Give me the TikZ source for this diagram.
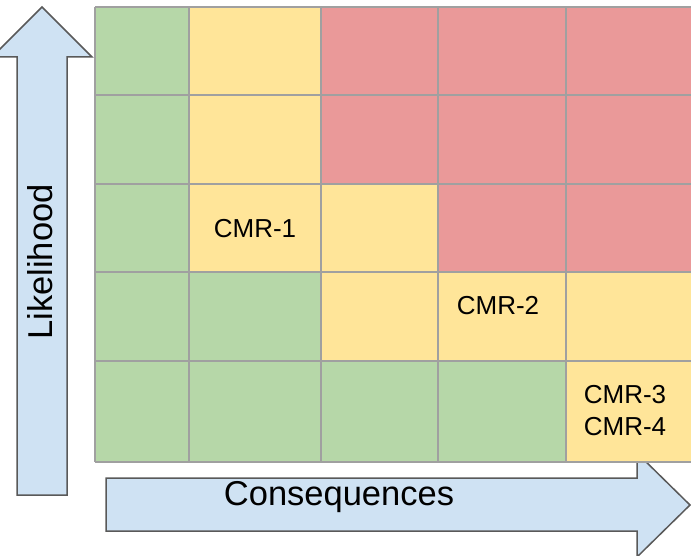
\documentclass[tikz,border=0pt]{standalone}
\usepackage{fontspec}
\setmainfont{Liberation Sans}
\definecolor{cgreen}{HTML}{B6D7A8}
\definecolor{cyellow}{HTML}{FFE599}
\definecolor{cred}{HTML}{EA9999}
\definecolor{cblue}{HTML}{CFE2F3}
\definecolor{cgrid}{HTML}{A0A0A0}
\definecolor{carrow}{HTML}{595959}
\tikzset{
  arrowshape/.style={fill=cblue, draw=carrow, line width=1.5pt, line join=miter},
  gridline/.style={draw=cgrid, line width=1.6pt},
  celltext/.style={font=\fontsize{26}{32}\selectfont, align=center, inner sep=0pt},
  axistext/.style={font=\fontsize{34.5}{40}\selectfont, inner sep=0pt},
}
\begin{document}
\begin{tikzpicture}[x=1pt,y=-1pt]
\useasboundingbox (0,0) rectangle (691,556);
\clip (0,0) rectangle (691,556);
% arrows
\draw[arrowshape] (17,495) -- (17,57) -- (-8,57) -- (42,7) -- (92,57) -- (67,57) -- (67,495) -- cycle;
\draw[arrowshape] (106,478) -- (637,478) -- (637,453) -- (690,505) -- (637,557) -- (637,531) -- (106,531) -- cycle;
% cells
\def\xs{{95,189,321,438,566,700}}
\def\ys{{7,95,184,272,361,462}}
\foreach \r/\c/\col in {
 0/0/cgreen,0/1/cyellow,0/2/cred,0/3/cred,0/4/cred,
 1/0/cgreen,1/1/cyellow,1/2/cred,1/3/cred,1/4/cred,
 2/0/cgreen,2/1/cyellow,2/2/cyellow,2/3/cred,2/4/cred,
 3/0/cgreen,3/1/cgreen,3/2/cyellow,3/3/cyellow,3/4/cyellow,
 4/0/cgreen,4/1/cgreen,4/2/cgreen,4/3/cgreen,4/4/cyellow}{
  \pgfmathsetmacro\xa{\xs[\c]}
  \pgfmathsetmacro\xb{\xs[\c+1]}
  \pgfmathsetmacro\ya{\ys[\r]}
  \pgfmathsetmacro\yb{\ys[\r+1]}
  \fill[\col] (\xa,\ya) rectangle (\xb,\yb);
}
\foreach \x in {95,189,321,438,566} \draw[gridline] (\x,7) -- (\x,462);
\foreach \y in {7,95,184,272,361,462} \draw[gridline] (95,\y) -- (700,\y);
% labels
\node[celltext] (cmr1) at (255,229) {CMR-1};
\node[celltext] (cmr2) at (498,306) {CMR-2};
\node[celltext] (cmr34) at (625,411) {CMR-3\\CMR-4};
\node[axistext, rotate=90] (like) at (40,262) {Likelihood};
\node[axistext] (cons) at (339,497) {Consequences};
\end{tikzpicture}
\end{document}
